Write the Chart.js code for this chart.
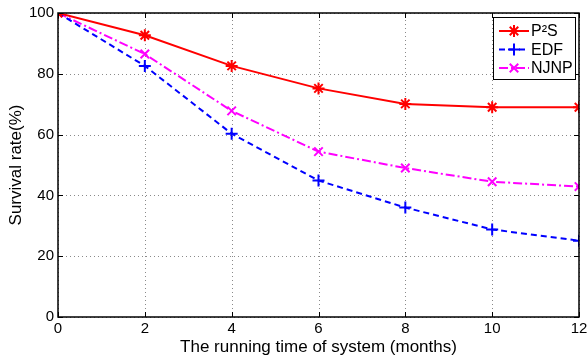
<!DOCTYPE html>
<html>
<head>
<meta charset="utf-8">
<script src="https://cdn.jsdelivr.net/npm/chart.js@4"></script>
<style>
  html, body { margin: 0; padding: 0; background: #fff; }
  #wrap { width: 587px; height: 358px; }
</style>
</head>
<body>
<div id="wrap"><canvas id="chart" width="587" height="358"></canvas></div>
<script>
// Data
const months = [0, 2, 4, 6, 8, 10, 12];
const p2s = [100, 92.7, 82.6, 75.2, 70.1, 69.0, 69.0];
const edf = [100, 82.6, 60.3, 44.9, 36.0, 28.8, 25.1];
const njnp = [100, 86.5, 67.8, 54.4, 49.0, 44.5, 42.9];
const xTicks = [0, 2, 4, 6, 8, 10, 12];
const yTicks = [0, 20, 40, 60, 80, 100];

const FONT = "'Liberation Sans', Arial, Helvetica, sans-serif";
Chart.defaults.font.family = FONT;

const toPoints = (ys) => months.map((m, i) => ({ x: m, y: ys[i] }));

// dotted grid, drawn under the lines
const gridPlugin = {
  id: 'dottedGrid',
  beforeDatasetsDraw: (chart) => {
    const { ctx, chartArea: a, scales } = chart;
    ctx.save();
    ctx.strokeStyle = '#8a8a8a';
    ctx.lineWidth = 1;
    ctx.setLineDash([1, 3]);
    ctx.beginPath();
    xTicks.forEach((t) => {
      const px = Math.round(scales.x.getPixelForValue(t)) + 0.5;
      ctx.moveTo(px, a.bottom); ctx.lineTo(px, a.top);
    });
    yTicks.forEach((t) => {
      const py = Math.round(scales.y.getPixelForValue(t)) + 0.5;
      ctx.moveTo(a.left, py); ctx.lineTo(a.right, py);
    });
    ctx.stroke();
    ctx.restore();
  }
};

// frame, inward ticks and the legend box, MATLAB style
const framePlugin = {
  id: 'frame',
  afterDraw: (chart) => {
    const { ctx, chartArea: a, scales } = chart;
    ctx.save();
    ctx.setLineDash([]);
    ctx.strokeStyle = '#000';
    ctx.lineWidth = 1.5;
    ctx.strokeRect(a.left, a.top, a.right - a.left, a.bottom - a.top);
    ctx.lineWidth = 1;
    ctx.beginPath();
    xTicks.forEach((t) => {
      const px = Math.round(scales.x.getPixelForValue(t)) + 0.5;
      ctx.moveTo(px, a.bottom); ctx.lineTo(px, a.bottom - 5);
      ctx.moveTo(px, a.top); ctx.lineTo(px, a.top + 5);
    });
    yTicks.forEach((t) => {
      const py = Math.round(scales.y.getPixelForValue(t)) + 0.5;
      ctx.moveTo(a.left, py); ctx.lineTo(a.left + 5, py);
      ctx.moveTo(a.right, py); ctx.lineTo(a.right - 5, py);
    });
    ctx.stroke();

    // legend
    const bx = 493, by = 17, bw = 82, bh = 62;
    ctx.fillStyle = '#fff';
    ctx.fillRect(bx, by, bw, bh);
    ctx.strokeStyle = '#000';
    ctx.lineWidth = 1;
    ctx.strokeRect(bx + 0.5, by + 0.5, bw, bh);
    chart.data.datasets.forEach((ds, i) => {
      const y = by + 14 + i * 18.5;
      ctx.strokeStyle = ds.borderColor;
      ctx.lineWidth = 2;
      ctx.setLineDash(ds.borderDash || []);
      ctx.beginPath();
      ctx.moveTo(bx + 6, y); ctx.lineTo(bx + 36, y);
      ctx.stroke();
      ctx.setLineDash([]);
      // marker through the library's own point drawing
      Chart.helpers.drawPoint(ctx, {
        pointStyle: ds.pointStyle, radius: ds.pointRadius,
        borderWidth: ds.pointBorderWidth, rotation: 0
      }, bx + 21, y);
      ctx.fillStyle = '#000';
      ctx.font = '16px ' + FONT;
      ctx.textBaseline = 'middle';
      ctx.textAlign = 'left';
      ctx.fillText(ds.label, bx + 38, y + 1);
    });
    ctx.restore();
  }
};

const series = (label, data, color, dash, style) => ({
  label,
  data: toPoints(data),
  borderColor: color,
  backgroundColor: color,
  borderWidth: 2,
  borderDash: dash,
  pointStyle: style,
  pointRadius: 6,
  pointBorderWidth: 2,
  pointBorderColor: color,
  tension: 0,
  fill: false
});

const hiddenGrid = { display: true, drawOnChartArea: false, drawTicks: false, color: 'rgba(0,0,0,0)' };

const ctx = document.getElementById('chart').getContext('2d');
new Chart(ctx, {
  type: 'line',
  data: {
    datasets: [
      series('P\u00B2S', p2s, '#ff0000', [], 'star'),
      series('EDF', edf, '#0000ff', [6, 4], 'cross'),
      series('NJNP', njnp, '#ff00ff', [9, 3, 2, 3], 'crossRot')
    ]
  },
  options: {
    responsive: false,
    animation: false,
    layout: { padding: { top: 13, right: 8, left: 0, bottom: 0 } },
    plugins: {
      legend: { display: false },
      tooltip: { enabled: false }
    },
    scales: {
      x: {
        type: 'linear',
        min: 0,
        max: 12,
        afterBuildTicks: (s) => { s.ticks = xTicks.map((v) => ({ value: v })); },
        afterFit: (s) => { s.height = 41; s.paddingLeft = 0; s.paddingRight = 0; },
        grid: hiddenGrid,
        border: { display: false },
        ticks: { color: '#000', font: { family: FONT, size: 15 }, padding: 3, maxRotation: 0 },
        title: {
          display: true,
          text: 'The running time of system (months)',
          color: '#000',
          font: { family: FONT, size: 17 },
          padding: { top: 0, bottom: 0 }
        }
      },
      y: {
        min: 0,
        max: 100,
        afterBuildTicks: (s) => { s.ticks = yTicks.map((v) => ({ value: v })); },
        afterFit: (s) => { s.width = 58; s.paddingTop = 0; s.paddingBottom = 0; },
        grid: hiddenGrid,
        border: { display: false },
        ticks: { color: '#000', font: { family: FONT, size: 15 }, padding: 4 },
        title: {
          display: true,
          text: 'Survival rate(%)',
          color: '#000',
          font: { family: FONT, size: 17 },
          padding: { top: 6, bottom: 0 }
        }
      }
    }
  },
  plugins: [gridPlugin, framePlugin]
});
</script>
</body>
</html>
